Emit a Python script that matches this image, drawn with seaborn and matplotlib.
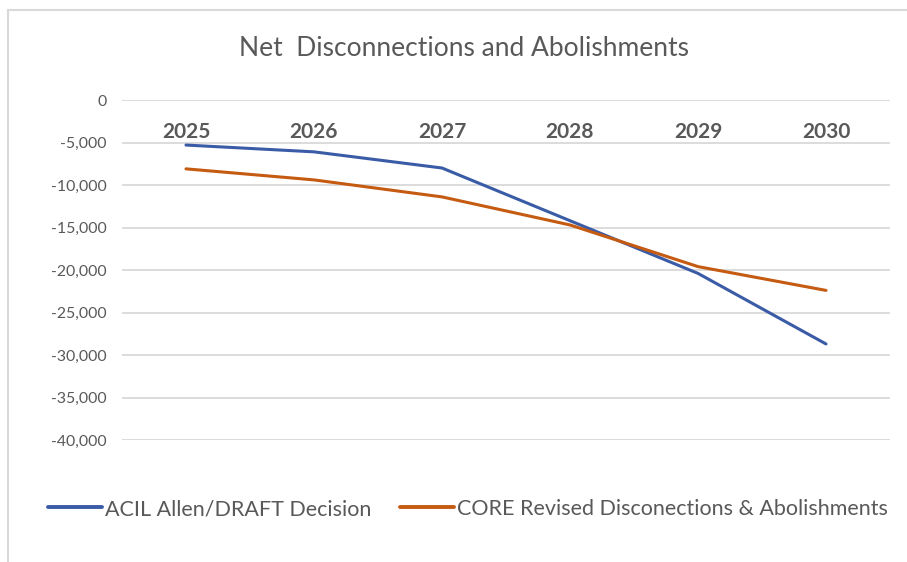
import matplotlib
matplotlib.use("Agg")
import matplotlib.pyplot as plt
from matplotlib.lines import Line2D
from matplotlib.ticker import FuncFormatter, MultipleLocator
import seaborn as sns
import pandas as pd

years = ["2025", "2026", "2027", "2028", "2029", "2030"]
acil_allen = [-5300, -6100, -8000, -14200, -20400, -28700]
core_revised = [-8100, -9400, -11400, -14700, -19600, -22400]

series_names = ["ACIL Allen/DRAFT Decision", "CORE Revised Disconections & Abolishments"]
title = "Net  Disconnections and Abolishments"

df = pd.DataFrame({
    "Year": years * 2,
    "Value": acil_allen + core_revised,
    "Series": [series_names[0]] * len(years) + [series_names[1]] * len(years),
})

sns.set_theme(style="white")
plt.rcParams["font.family"] = ["Lato", "DejaVu Sans"]

text_color = "#595959"
grid_color = "#d9d9d9"
palette = {series_names[0]: "#3a5ba6", series_names[1]: "#c55a11"}

W, H = 907, 562
fig = plt.figure(figsize=(W / 100, H / 100), dpi=100)
ax = fig.add_axes([122 / W, 1 - 440 / H, 768 / W, 340 / H])

sns.lineplot(data=df, x="Year", y="Value", hue="Series", palette=palette,
             linewidth=2.2, sort=False, ax=ax, legend=False)

ax.set_xlim(-0.5, len(years) - 0.5)
ax.set_ylim(-40000, 0)
ax.yaxis.set_major_locator(MultipleLocator(5000))
ax.yaxis.set_major_formatter(FuncFormatter(lambda v, _: f"{int(v):,}"))
ax.grid(axis="y", color=grid_color, linewidth=1.3)
ax.grid(axis="x", visible=False)
ax.set_axisbelow(True)
for s in ax.spines.values():
    s.set_visible(False)

ax.set_xticks(range(len(years)))
ax.set_xticklabels(years, fontweight="bold")
ax.tick_params(axis="x", top=False, bottom=False, labeltop=True, labelbottom=False,
               pad=-30.5, labelsize=15, labelcolor=text_color, length=0)
ax.tick_params(axis="y", length=0, pad=11, labelsize=11.4, labelcolor=text_color)
ax.set_xlabel("")
ax.set_ylabel("")

fig.text(464 / W, 1 - 48 / H, title, ha="center", va="center",
         fontsize=19, color=text_color)

handles = [Line2D([0], [0], color=palette[n], lw=2.8) for n in series_names]
fig.legend(handles, series_names, loc="center", bbox_to_anchor=(468 / W, 1 - 509 / H),
           ncol=2, frameon=False, fontsize=15.5, labelcolor=text_color,
           handlelength=2.5, handletextpad=0.15, columnspacing=1.3)

# chart-area frame along the top and left edges
fig.add_artist(Line2D([8 / W, 1], [1 - 10 / H, 1 - 10 / H], color=grid_color, lw=1.5))
fig.add_artist(Line2D([8 / W, 8 / W], [0, 1 - 10 / H], color=grid_color, lw=1.5))

fig.savefig("out.png", dpi=100)
